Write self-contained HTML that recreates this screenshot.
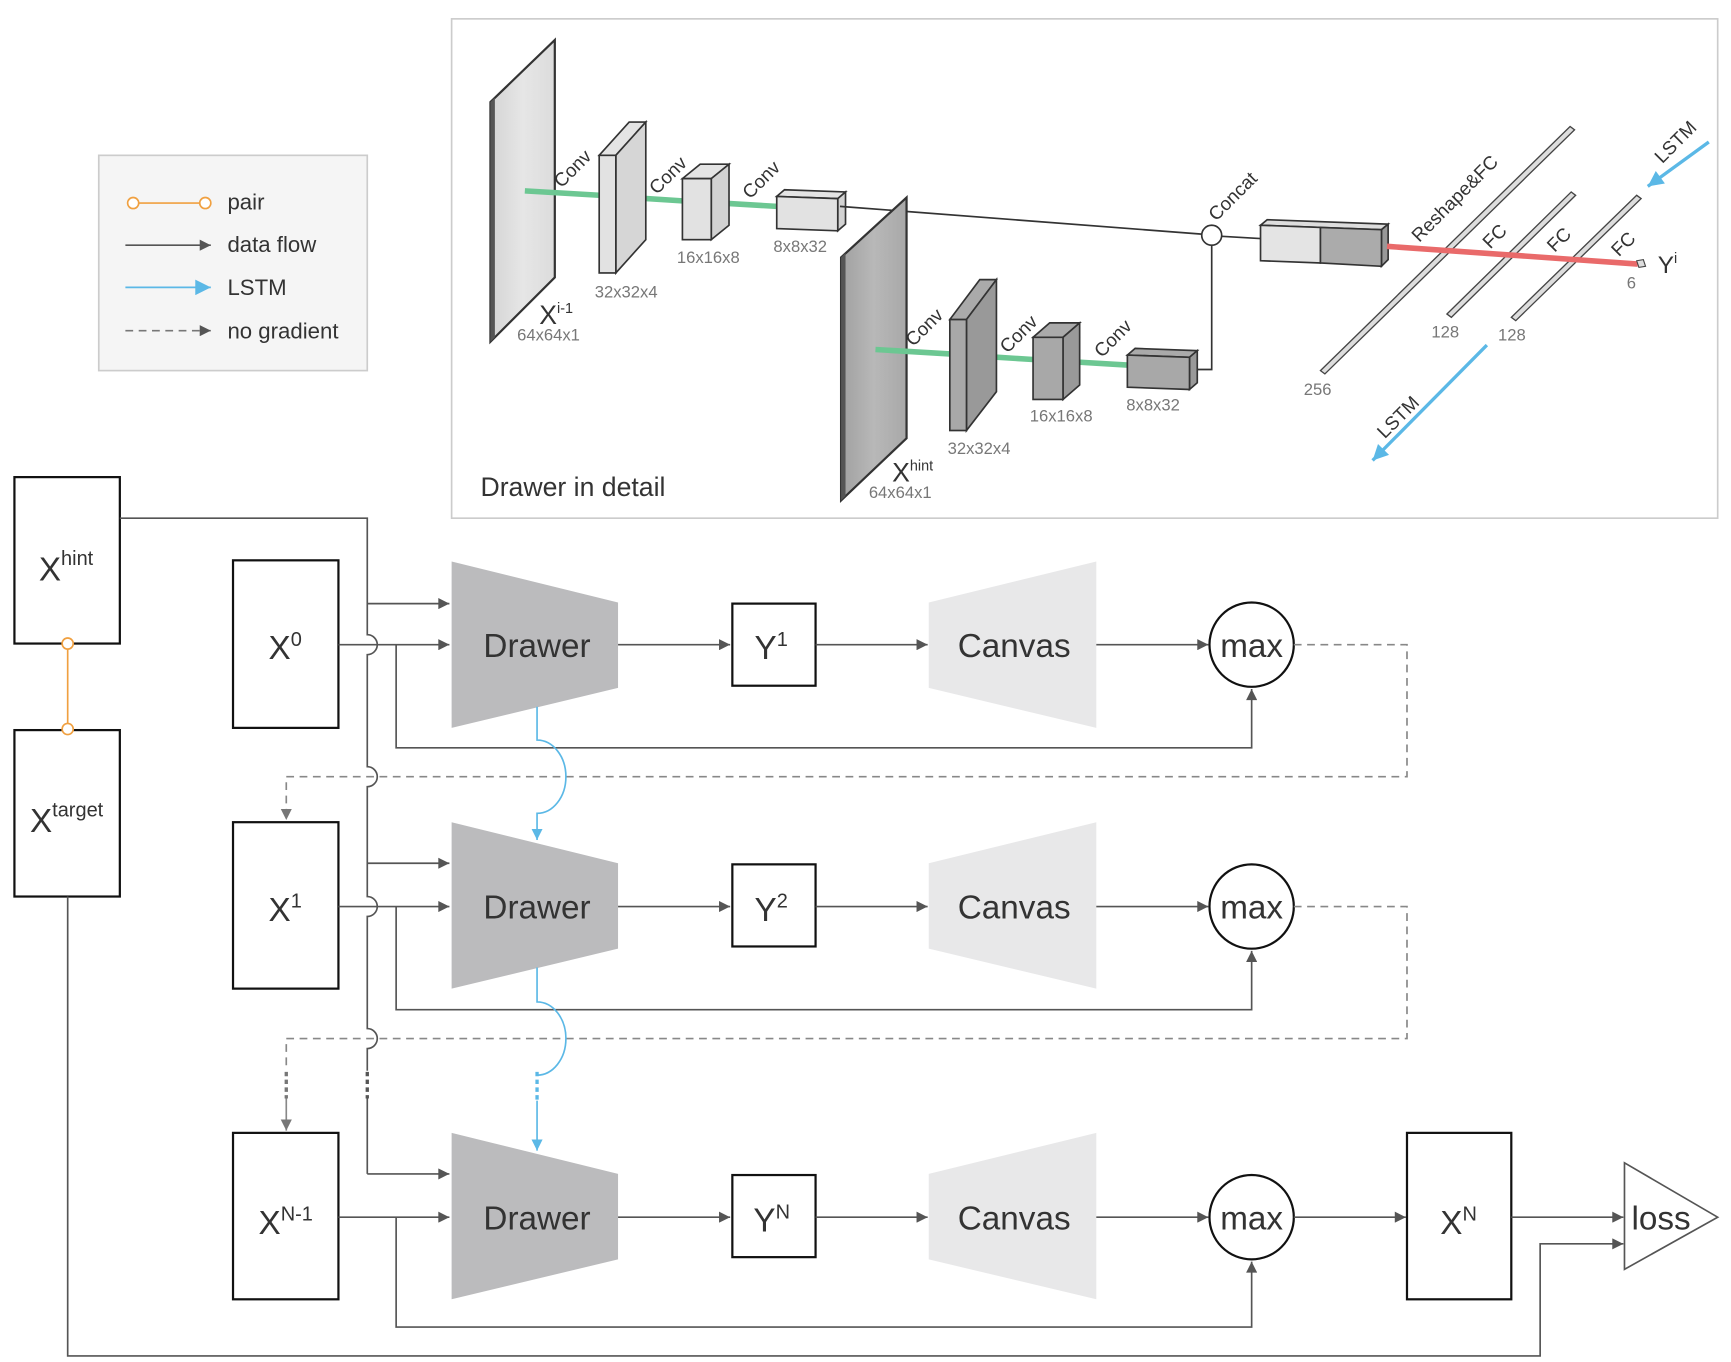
<!DOCTYPE html>
<html><head><meta charset="utf-8"><style>
html,body{margin:0;padding:0;background:#fff;}
svg{display:block;}
text{font-family:"Liberation Sans",Arial,sans-serif;}
</style></head><body>
<svg width="1731" height="1362" viewBox="0 0 1560 1227.5" preserveAspectRatio="none" xmlns="http://www.w3.org/2000/svg">
<defs>
<marker id="a" viewBox="0 0 10 10" refX="10" refY="5" markerWidth="14" markerHeight="10" markerUnits="userSpaceOnUse" orient="auto"><path d="M0,0L10,5L0,10z" fill="#555"/></marker>
<marker id="ag" viewBox="0 0 10 10" refX="10" refY="5" markerWidth="10" markerHeight="14" markerUnits="userSpaceOnUse" orient="auto"><path d="M0,0L10,5L0,10z" fill="#777"/></marker>
<marker id="ab" viewBox="0 0 10 10" refX="10" refY="5" markerWidth="10" markerHeight="14" markerUnits="userSpaceOnUse" orient="auto"><path d="M0,0L10,5L0,10z" fill="#5bb8e6"/></marker>
<marker id="abl" viewBox="0 0 10 10" refX="10" refY="5" markerWidth="16" markerHeight="14" markerUnits="userSpaceOnUse" orient="auto"><path d="M0,0L10,5L0,10z" fill="#5bb8e6"/></marker>
<linearGradient id="g1" x1="0" x2="1"><stop offset="0" stop-color="#d4d4d4"/><stop offset="0.5" stop-color="#e6e6e6"/><stop offset="1" stop-color="#dcdcdc"/></linearGradient>
<linearGradient id="g2" x1="0" x2="1"><stop offset="0" stop-color="#a0a0a0"/><stop offset="0.5" stop-color="#b8b8b8"/><stop offset="1" stop-color="#a8a8a8"/></linearGradient>
</defs>

<!-- Legend -->
<rect x="89" y="140" width="242" height="194" fill="#f5f5f5" stroke="#ccc" stroke-width="1.5"/>
<line x1="120" y1="183" x2="185" y2="183" stroke="#f0a040" stroke-width="1.5"/>
<circle cx="120" cy="183" r="5" fill="#fff" stroke="#f0a040" stroke-width="1.5"/>
<circle cx="185" cy="183" r="5" fill="#fff" stroke="#f0a040" stroke-width="1.5"/>
<line x1="113" y1="221" x2="190" y2="221" stroke="#555" stroke-width="1.5" marker-end="url(#a)"/>
<line x1="113" y1="259" x2="190" y2="259" stroke="#5bb8e6" stroke-width="1.5" marker-end="url(#abl)"/>
<line x1="113" y1="298" x2="190" y2="298" stroke="#777" stroke-width="1.5" stroke-dasharray="7,5" marker-end="url(#a)"/>
<g font-size="20" fill="#333">
<text x="205" y="189">pair</text><text x="205" y="227">data flow</text><text x="205" y="266">LSTM</text><text x="205" y="305">no gradient</text>
</g>

<!-- Detail panel -->
<rect x="407" y="17" width="1141" height="450" fill="#fff" stroke="#ccc" stroke-width="1.5"/>
<text x="433" y="447" font-size="24" fill="#333">Drawer in detail</text>

<!-- Xi-1 slab -->
<polygon points="442,92 500,36 500,250 442,308" fill="url(#g1)" stroke="#333" stroke-width="2"/>
<polygon points="442,92 446,88 446,304 442,308" fill="#555"/>
<!-- green lines top -->
<g stroke="#6cc792" stroke-width="5">
<line x1="473" y1="172" x2="540" y2="176"/><line x1="568" y1="178" x2="615" y2="181"/><line x1="650" y1="183" x2="700" y2="186"/>
</g>
<!-- 32x32x4 -->
<polygon points="540,140 555,140 582,110 567,110" fill="#e4e4e4" stroke="#333" stroke-width="1.5"/>
<polygon points="555,140 582,110 582,216 555,246" fill="#d6d6d6" stroke="#333" stroke-width="1.5"/>
<rect x="540" y="140" width="15" height="106" fill="#e2e2e2" stroke="#333" stroke-width="1.5"/>
<!-- 16x16x8 -->
<polygon points="615,161 641,161 657,148 631,148" fill="#e4e4e4" stroke="#333" stroke-width="1.5"/>
<polygon points="641,161 657,148 657,203 641,216" fill="#d2d2d2" stroke="#333" stroke-width="1.5"/>
<rect x="615" y="161" width="26" height="55" fill="#e2e2e2" stroke="#333" stroke-width="1.5"/>
<!-- 8x8x32 -->
<polygon points="700,177 755,179 762,173 707,171" fill="#e4e4e4" stroke="#333" stroke-width="1.5"/>
<polygon points="755,179 762,173 762,202 755,208" fill="#d2d2d2" stroke="#333" stroke-width="1.5"/>
<polygon points="700,177 755,179 755,208 700,206" fill="#e2e2e2" stroke="#333" stroke-width="1.5"/>
<!-- line to concat -->
<line x1="757" y1="186" x2="1083" y2="211" stroke="#333" stroke-width="1.5"/>
<line x1="1101" y1="213" x2="1136" y2="215" stroke="#333" stroke-width="1.5"/>
<polyline points="1075,333 1092,333 1092,221" fill="none" stroke="#333" stroke-width="1.5"/>
<circle cx="1092" cy="212" r="9" fill="#fff" stroke="#333" stroke-width="1.5"/>

<!-- Xhint slab -->
<polygon points="758,232 817,178 817,395 758,451" fill="url(#g2)" stroke="#333" stroke-width="2"/>
<polygon points="758,232 762,228 762,447 758,451" fill="#555"/>
<g stroke="#6cc792" stroke-width="5">
<line x1="789" y1="315" x2="856" y2="319"/><line x1="884" y1="321" x2="931" y2="324"/><line x1="966" y1="326" x2="1016" y2="329"/>
</g>
<!-- 32x32x4 dark -->
<polygon points="856,288 871,288 898,252 883,252" fill="#aaa" stroke="#333" stroke-width="1.5"/>
<polygon points="871,288 898,252 898,353 871,388" fill="#999" stroke="#333" stroke-width="1.5"/>
<rect x="856" y="288" width="15" height="100" fill="#a8a8a8" stroke="#333" stroke-width="1.5"/>
<!-- 16x16x8 dark -->
<polygon points="931,304 958,304 973,291 946,291" fill="#aaa" stroke="#333" stroke-width="1.5"/>
<polygon points="958,304 973,291 973,347 958,360" fill="#999" stroke="#333" stroke-width="1.5"/>
<rect x="931" y="304" width="27" height="56" fill="#a8a8a8" stroke="#333" stroke-width="1.5"/>
<!-- 8x8x32 dark -->
<polygon points="1016,320 1072,322 1079,316 1023,314" fill="#aaa" stroke="#333" stroke-width="1.5"/>
<polygon points="1072,322 1079,316 1079,345 1072,351" fill="#999" stroke="#333" stroke-width="1.5"/>
<polygon points="1016,320 1072,322 1072,351 1016,349" fill="#a8a8a8" stroke="#333" stroke-width="1.5"/>

<!-- concat box -->
<polygon points="1136,203 1245,207 1251,202 1142,198" fill="#ddd" stroke="#333" stroke-width="1.5"/>
<polygon points="1245,207 1251,202 1251,234 1245,240" fill="#999" stroke="#333" stroke-width="1.5"/>
<polygon points="1136,203 1190,205 1190,237 1136,235" fill="#e4e4e4" stroke="#333" stroke-width="1.5"/>
<polygon points="1190,205 1245,207 1245,240 1190,237" fill="#ababab" stroke="#333" stroke-width="1.5"/>

<!-- rods -->
<g fill="#ddd" stroke="#444" stroke-width="1.2">
<polygon points="1190,334 1415,114 1419,117 1194,337"/>
<polygon points="1304,283 1416,173 1420,176 1308,286"/>
<polygon points="1362,286 1475,176 1479,179 1366,289"/>
</g>
<line x1="1250" y1="222" x2="1476" y2="238" stroke="#e96a6a" stroke-width="5"/>
<polygon points="1475,235 1481,234 1483,240 1477,241" fill="#ddd" stroke="#444" stroke-width="1"/>
<text x="1494" y="246" font-size="22" fill="#333">Y<tspan font-size="13" dy="-9">i</tspan></text>
<g font-size="15" fill="#777">
<text x="1466" y="260">6</text><text x="1290" y="304">128</text><text x="1350" y="307">128</text><text x="1175" y="356">256</text>
<text x="466" y="307">64x64x1</text><text x="536" y="268">32x32x4</text><text x="610" y="237">16x16x8</text><text x="697" y="227">8x8x32</text>
<text x="783" y="449">64x64x1</text><text x="854" y="409">32x32x4</text><text x="928" y="380">16x16x8</text><text x="1015" y="370">8x8x32</text>
</g>
<text x="486" y="292" font-size="24" fill="#333">X<tspan font-size="13" dy="-10">i-1</tspan></text>
<text x="804" y="434" font-size="24" fill="#333">X<tspan font-size="13" dy="-10">hint</tspan></text>
<g font-size="17" fill="#333">
<text transform="translate(506,170) rotate(-45)">Conv</text>
<text transform="translate(592,176) rotate(-45)">Conv</text>
<text transform="translate(676,180) rotate(-45)">Conv</text>
<text transform="translate(823,313) rotate(-45)">Conv</text>
<text transform="translate(908,319) rotate(-45)">Conv</text>
<text transform="translate(993,323) rotate(-45)">Conv</text>
<text transform="translate(1096,200) rotate(-45)">Concat</text>
<text transform="translate(1279,219) rotate(-45)">Reshape&amp;FC</text>
<text transform="translate(1343,225) rotate(-45)">FC</text>
<text transform="translate(1401,228) rotate(-45)">FC</text>
<text transform="translate(1459,232) rotate(-45)">FC</text>
<text transform="translate(1498,148) rotate(-45)">LSTM</text>
<text transform="translate(1248,396) rotate(-45)">LSTM</text>
</g>
<line x1="1540" y1="128" x2="1485" y2="168" stroke="#5bb8e6" stroke-width="3" marker-end="url(#abl)"/>
<line x1="1340" y1="311" x2="1237" y2="415" stroke="#5bb8e6" stroke-width="3" marker-end="url(#abl)"/>

<!-- Main flow -->
<g fill="#fff" stroke="#111" stroke-width="2">
<rect x="13" y="430" width="95" height="150"/>
<rect x="13" y="658" width="95" height="150"/>
<rect x="210" y="505" width="95" height="151"/>
<rect x="210" y="741" width="95" height="150"/>
<rect x="210" y="1021" width="95" height="150"/>
<rect x="660" y="544" width="75" height="74"/>
<rect x="660" y="779" width="75" height="74"/>
<rect x="660" y="1059" width="75" height="74"/>
<rect x="1268" y="1021" width="94" height="150"/>
</g>
<line x1="61" y1="580" x2="61" y2="657" stroke="#f0a040" stroke-width="1.5"/>
<circle cx="61" cy="580" r="5" fill="#fff" stroke="#f0a040" stroke-width="1.5"/>
<circle cx="61" cy="657" r="5" fill="#fff" stroke="#f0a040" stroke-width="1.5"/>

<!-- drawers & canvases -->
<g fill="#bbbbbd">
<polygon points="407,506 557,543 557,620 407,656"/>
<polygon points="407,741 557,778 557,855 407,891"/>
<polygon points="407,1021 557,1058 557,1135 407,1171"/>
</g>
<g fill="#e8e8e9">
<polygon points="837,543 988,506 988,656 837,620"/>
<polygon points="837,778 988,741 988,891 837,855"/>
<polygon points="837,1058 988,1021 988,1171 837,1135"/>
</g>
<g fill="#fff" stroke="#111" stroke-width="2">
<circle cx="1128" cy="581" r="38"/><circle cx="1128" cy="817" r="38"/><circle cx="1128" cy="1097" r="38"/>
</g>
<polygon points="1464,1048 1548,1097 1464,1144" fill="#fff" stroke="#555" stroke-width="1.5"/>

<g font-size="30" fill="#333" text-anchor="middle">
<text x="484" y="592">Drawer</text><text x="484" y="828">Drawer</text><text x="484" y="1108">Drawer</text>
<text x="914" y="592">Canvas</text><text x="914" y="828">Canvas</text><text x="914" y="1108">Canvas</text>
<text x="1128" y="592">max</text><text x="1128" y="828">max</text><text x="1128" y="1108">max</text>
<text x="1497" y="1108">loss</text>
</g>
<g font-size="30" fill="#333">
<text x="35" y="523">X<tspan font-size="18" dy="-14">hint</tspan></text>
<text x="27" y="750">X<tspan font-size="18" dy="-14">target</tspan></text>
<text x="242" y="594">X<tspan font-size="18" dy="-12">0</tspan></text>
<text x="242" y="830">X<tspan font-size="18" dy="-12">1</tspan></text>
<text x="233" y="1112">X<tspan font-size="18" dy="-12">N-1</tspan></text>
<text x="680" y="594">Y<tspan font-size="18" dy="-12">1</tspan></text>
<text x="680" y="830">Y<tspan font-size="18" dy="-12">2</tspan></text>
<text x="679" y="1110">Y<tspan font-size="18" dy="-12">N</tspan></text>
<text x="1298" y="1112">X<tspan font-size="18" dy="-12">N</tspan></text>
</g>

<!-- data flow lines -->
<g fill="none" stroke="#555" stroke-width="1.5">
<path d="M108,467 H331 V572 A9,9 0 0 1 331,590 V691 A9,9 0 0 1 331,709 V808 A9,9 0 0 1 331,826 V927 A9,9 0 0 1 331,945 V965"/>
<path d="M331,990 V1058"/>
<path d="M331,544 H405" marker-end="url(#a)"/>
<path d="M331,778 H405" marker-end="url(#a)"/>
<path d="M331,1058 H405" marker-end="url(#a)"/>
<path d="M305,581 H405" marker-end="url(#a)"/>
<path d="M305,817 H405" marker-end="url(#a)"/>
<path d="M305,1097 H405" marker-end="url(#a)"/>
<path d="M357,581 V674 H1128 V621" marker-end="url(#a)"/>
<path d="M357,817 V910 H1128 V857" marker-end="url(#a)"/>
<path d="M357,1097 V1196 H1128 V1137" marker-end="url(#a)"/>
<path d="M557,581 H658" marker-end="url(#a)"/><path d="M557,817 H658" marker-end="url(#a)"/><path d="M557,1097 H658" marker-end="url(#a)"/>
<path d="M735,581 H836" marker-end="url(#a)"/><path d="M735,817 H836" marker-end="url(#a)"/><path d="M735,1097 H836" marker-end="url(#a)"/>
<path d="M988,581 H1089" marker-end="url(#a)"/><path d="M988,817 H1089" marker-end="url(#a)"/><path d="M988,1097 H1089" marker-end="url(#a)"/>
<path d="M1166,1097 H1267" marker-end="url(#a)"/>
<path d="M1362,1097 H1463" marker-end="url(#a)"/>
<path d="M61,808 V1222 H1388 V1121 H1463" marker-end="url(#a)"/>
</g>
<line x1="331" y1="966" x2="331" y2="990" stroke="#555" stroke-width="3" stroke-dasharray="4,3"/>
<!-- dashed no gradient -->
<g fill="none" stroke="#888" stroke-width="1.5" stroke-dasharray="7,5">
<path d="M1166,581 H1268 V700 H258 V739" marker-end="url(#ag)"/>
<path d="M1166,817 H1268 V936 H258 V965"/>
</g>
<line x1="258" y1="966" x2="258" y2="990" stroke="#777" stroke-width="3" stroke-dasharray="4,3"/>
<line x1="258" y1="990" x2="258" y2="1019" stroke="#888" stroke-width="1.5" marker-end="url(#ag)"/>
<!-- LSTM -->
<g fill="none" stroke="#5bb8e6" stroke-width="1.5">
<path d="M484,637 V667 A26,33 0 0 1 484,733 V757" marker-end="url(#ab)"/>
<path d="M484,872 V903 A26,33 0 0 1 484,969"/>
<path d="M484,992 V1037" marker-end="url(#ab)"/>
</g>
<line x1="484" y1="966" x2="484" y2="992" stroke="#5bb8e6" stroke-width="3" stroke-dasharray="4,3"/>
</svg>
</body></html>
